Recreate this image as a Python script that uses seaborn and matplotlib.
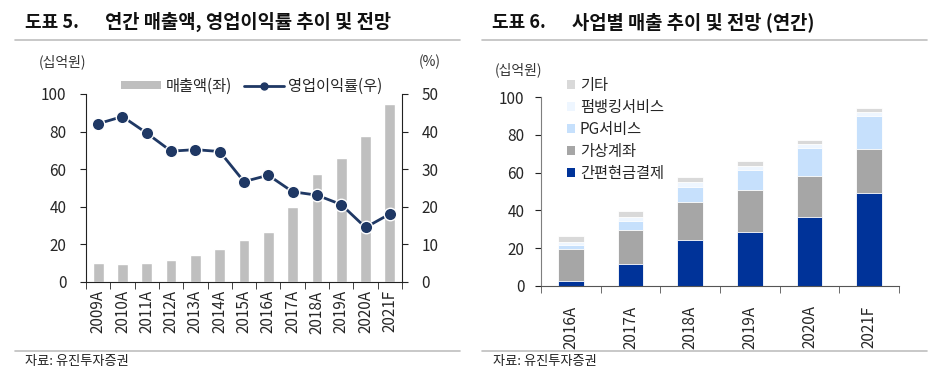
import numpy as np
import pandas as pd
import matplotlib
matplotlib.use('Agg')
import matplotlib.pyplot as plt
import seaborn as sns
from matplotlib.lines import Line2D
from matplotlib.patches import Patch

# data: 도표 5 (annual revenue & OP margin)
years_5 = ['2009A', '2010A', '2011A', '2012A', '2013A', '2014A', '2015A',
           '2016A', '2017A', '2018A', '2019A', '2020A', '2021F']
revenue = [9.9, 9.6, 9.9, 11.5, 14.6, 17.6, 22.4, 26.8, 40.0, 57.7, 66.1, 77.8, 94.7]
op_margin = [42.1, 44.0, 39.6, 34.8, 35.2, 34.7, 26.7, 28.4, 24.0, 23.1, 20.6, 14.5, 18.1]

# data: 도표 6 (revenue by business)
years_6 = ['2016A', '2017A', '2018A', '2019A', '2020A', '2021F']
simple_pay = [2.8, 11.7, 24.2, 28.7, 36.3, 49.4]     # 간편현금결제
virtual_acct = [16.8, 17.9, 20.4, 21.9, 21.9, 23.3]  # 가상계좌
pg_service = [2.1, 4.9, 8.0, 10.6, 14.7, 17.0]       # PG서비스
firmbanking = [1.8, 2.1, 2.3, 2.3, 2.3, 2.3]         # 펌뱅킹서비스
etc = [3.2, 3.0, 2.6, 2.5, 2.1, 2.3]                 # 기타

sns.set_style("ticks")
plt.rcParams['font.family'] = ['Noto Sans CJK KR', 'DejaVu Sans']
plt.rcParams['axes.unicode_minus'] = False

W, H = 940, 388
fig = plt.figure(figsize=(9.4, 3.88), dpi=100)

def fx(px):
    return px / W

def fy(py):
    return 1 - py / H

# header / footer decoration
for x0, x1 in [(15, 460), (482, 927)]:
    fig.add_artist(Line2D([fx(x0), fx(x1)], [fy(40), fy(40)], color='#BFBFBF', lw=1.2))
    fig.add_artist(Line2D([fx(x0), fx(x1)], [fy(351), fy(351)], color='#BFBFBF', lw=1.2))
fig.text(fx(25), fy(22), '도표 5.', fontsize=13, fontweight='bold', va='center', color='#111111')
fig.text(fx(105), fy(22), '연간 매출액, 영업이익률 추이 및 전망', fontsize=13.5, fontweight='bold',
         va='center', color='#111111')
fig.text(fx(492), fy(22), '도표 6.', fontsize=13, fontweight='bold', va='center', color='#111111')
fig.text(fx(572), fy(22), '사업별 매출 추이 및 전망 (연간)', fontsize=13.5, fontweight='bold',
         va='center', color='#111111')
fig.text(fx(25), fy(362), '자료: 유진투자증권', fontsize=9.5, va='center', color='#222222')
fig.text(fx(493), fy(362), '자료: 유진투자증권', fontsize=9.5, va='center', color='#222222')

# ---- left chart ----
ax = fig.add_axes([fx(86), fy(282), fx(316), (282 - 94) / H])
df5 = pd.DataFrame({'year': years_5, 'revenue': revenue, 'margin': op_margin})
sns.barplot(data=df5, x='year', y='revenue', color='#BFBFBF', saturation=1, width=0.44, ax=ax)
ax2 = ax.twinx()
sns.lineplot(x=np.arange(len(years_5)), y=df5['margin'], ax=ax2, color='#1F3864', lw=2,
             marker='o', markersize=9, markeredgecolor='white', markeredgewidth=1)
ax.set_xlim(-0.5, len(years_5) - 0.5)
ax.set_ylim(0, 100)
ax2.set_ylim(0, 50)
ax.set_yticks(range(0, 101, 20))
ax2.set_yticks(range(0, 51, 10))
ax.set_xlabel('')
ax.set_ylabel('')
ax2.set_ylabel('')
ax.set_xticks(range(len(years_5)))
ax.set_xticklabels(years_5, rotation=90)
ax.set_xticks(np.arange(-0.5, len(years_5)), minor=True)
ax.tick_params(axis='x', which='major', length=0, pad=6, labelsize=11)
ax.tick_params(axis='x', which='minor', length=5, color='#222222')
ax.tick_params(axis='y', length=4, labelsize=11, pad=10, color='#222222')
ax2.tick_params(axis='y', length=4, labelsize=11, pad=10, color='#222222')
for a in (ax, ax2):
    a.spines['top'].set_visible(False)
    for s in ('left', 'right', 'bottom'):
        a.spines[s].set_color('#222222')
ax.spines['right'].set_visible(False)
ax2.spines['left'].set_visible(False)
ax2.spines['bottom'].set_visible(False)
fig.text(fx(62), fy(62), '(십억원)', fontsize=10, ha='center', va='center', color='#333333')
fig.text(fx(430), fy(62), '(%)', fontsize=10, ha='center', va='center', color='#333333')
handles5 = [Patch(facecolor='#BFBFBF', edgecolor='none'),
            Line2D([], [], color='#1F3864', lw=2, marker='o', markersize=5)]
fig.legend(handles5, ['매출액(좌)', '영업이익률(우)'], loc='center', ncol=2,
           bbox_to_anchor=(fx(252), fy(86)), frameon=False, fontsize=11,
           handlelength=2.6, handleheight=0.45, handletextpad=0.3, columnspacing=0.8,
           borderpad=0)

# ---- right chart ----
bx = fig.add_axes([fx(541), fy(286), fx(358), (286 - 97) / H])
df6 = pd.DataFrame({'year': years_6, '간편현금결제': simple_pay, '가상계좌': virtual_acct,
                    'PG서비스': pg_service, '펌뱅킹서비스': firmbanking, '기타': etc})
series = ['간편현금결제', '가상계좌', 'PG서비스', '펌뱅킹서비스', '기타']
colors = {'간편현금결제': '#003399', '가상계좌': '#A6A6A6', 'PG서비스': '#C6E0FC',
          '펌뱅킹서비스': '#EEF6FF', '기타': '#D9D9D9'}
cum = df6[series].cumsum(axis=1)
# draw the cumulative totals from the top layer down so each segment shows
for name in reversed(series):
    sns.barplot(x=df6['year'], y=cum[name], color=colors[name], saturation=1, width=0.43,
                ax=bx, edgecolor='white', linewidth=0.6)
bx.set_xlim(-0.5, len(years_6) - 0.5)
bx.set_ylim(0, 100)
bx.set_yticks(range(0, 101, 20))
bx.set_xlabel('')
bx.set_ylabel('')
bx.set_xticks(range(len(years_6)))
bx.set_xticklabels(years_6, rotation=90)
bx.set_xticks(np.arange(-0.5, len(years_6)), minor=True)
bx.tick_params(axis='x', which='major', length=0, pad=14, labelsize=11)
bx.tick_params(axis='x', which='minor', length=5, color='#555555')
bx.tick_params(axis='y', length=4, labelsize=11, pad=8, color='#222222')
bx.spines['top'].set_visible(False)
bx.spines['right'].set_visible(False)
bx.spines['left'].set_color('#7F7F7F')
bx.spines['bottom'].set_color('#555555')
fig.text(fx(518), fy(70), '(십억원)', fontsize=10, ha='center', va='center', color='#333333')
handles6 = [Patch(facecolor=colors[n], edgecolor='none') for n in reversed(series)]
fig.legend(handles6, list(reversed(series)), loc='upper left',
           bbox_to_anchor=(fx(567), fy(77)), frameon=False, fontsize=11,
           handlelength=0.55, handleheight=0.55, handletextpad=0.3, labelspacing=0.32,
           borderpad=0, borderaxespad=0)

fig.savefig('out.png', dpi=100)
